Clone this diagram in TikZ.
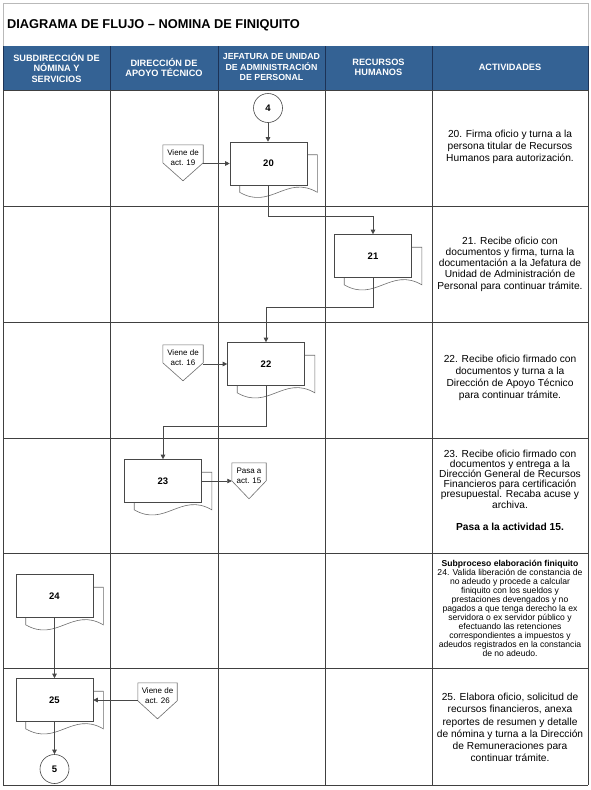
\documentclass[tikz,border=0pt]{standalone}
\usepackage{fontspec}
\setmainfont{Liberation Sans}
\usetikzlibrary{arrows.meta,calc}
\pgfdeclarelayer{gridl}
\pgfdeclarelayer{backl}
\pgfsetlayers{gridl,backl,main}
\definecolor{hdr}{RGB}{52,98,148}
\definecolor{hdrline}{RGB}{28,50,86}
\definecolor{gridc}{RGB}{64,64,64}
\definecolor{shp}{RGB}{72,72,72}
\definecolor{shpback}{RGB}{110,110,110}
\tikzset{
  docfront/.style={draw=shp, line width=0.6pt, fill=white, minimum width=77pt, minimum height=43pt, inner sep=0pt, font=\fontsize{9.5}{11}\selectfont\bfseries},
  docback/.style={draw=shpback, line width=0.6pt, fill=white},
  conn/.style={draw=shp, line width=0.6pt},
  arr/.style={conn, -{Triangle[length=4.5pt,width=4.5pt]}},
  offtext/.style={minimum width=#1, minimum height=26pt, inner sep=0pt, align=center, font=\fontsize{8}{10}\selectfont},
  offline/.style={draw=shpback, line width=0.6pt, fill=white},
  circ/.style={circle, draw=shp, line width=0.6pt, fill=white, minimum size=29pt, inner sep=0pt, font=\fontsize{9.5}{11}\selectfont\bfseries},
  acttext/.style={align=center, inner sep=0pt, font=\fontsize{10.2}{#1}\selectfont},
  hdrtext/.style={text=white, align=center, inner sep=0pt, font=\fontsize{9.2}{10.5}\selectfont\bfseries},
}
\newcommand\docbk[1]{%
  \begin{pgfonlayer}{backl}
  \draw[docback] ($(#1.north west)+(10,13)$) -- ($(#1.north east)+(10,13)$) -- ($(#1.south east)+(10,7)$)
    .. controls ($(#1.south east)+(-21,-11)$) and ($(#1.south west)+(41,25)$) .. ($(#1.south west)+(10,7)$) -- cycle;
  \end{pgfonlayer}}
\newcommand\offpg[1]{%
  \begin{pgfonlayer}{backl}
  \draw[offline] (#1.north west) -- (#1.north east) -- ($(#1.north east)+(0,18)$) -- ($(#1.north)+(0,36)$) -- ($(#1.north west)+(0,18)$) -- cycle;
  \end{pgfonlayer}}
\begin{document}
\begin{tikzpicture}[x=1pt,y=-1pt]
\useasboundingbox (0,0) rectangle (590,790);
\begin{pgfonlayer}{gridl}
  \fill[white] (0,0) rectangle (590,790);
  \draw[gray!55, line width=0.8pt] (3,3) rectangle (588,46);
  \fill[hdr] (3,46) rectangle (588,90);
  \foreach \x in {3,110,218,325,432,588} \draw[hdrline, line width=0.8pt] (\x,46) -- (\x,90);
  \foreach \x in {3,110,218,325,432,588} \draw[gridc, line width=0.8pt] (\x,90) -- (\x,785);
  \foreach \y in {90,206,322,438,553,668,785} \draw[gridc, line width=0.8pt] (3,\y) -- (588,\y);
\end{pgfonlayer}

% title and header
\node[anchor=base west, inner sep=0pt, font=\fontsize{12.8}{15}\selectfont\bfseries] (title) at (7,28.5) {DIAGRAMA DE FLUJO – NOMINA DE FINIQUITO};
\node[hdrtext] (h1) at (56.5,67.5) {SUBDIRECCIÓN DE\\NÓMINA Y\\SERVICIOS};
\node[hdrtext] (h2) at (164,67.5) {DIRECCIÓN DE\\APOYO TÉCNICO};
\node[hdrtext, font=\fontsize{8.8}{10.5}\selectfont\bfseries] (h3) at (271.5,67.5) {JEFATURA DE UNIDAD\\DE ADMINISTRACIÓN\\DE PERSONAL};
\node[hdrtext] (h4) at (378.5,67.5) {RECURSOS\\HUMANOS};
\node[hdrtext] (h5) at (510,67.5) {ACTIVIDADES};

% activities text
\node[acttext=11.7] (a1) at (510,147) {20. Firma oficio y turna a la\\persona titular de Recursos\\Humanos para autorización.};
\node[acttext=11.25] (a2) at (510,264) {21. Recibe oficio con\\documentos y firma, turna la\\documentación a la Jefatura de\\Unidad de Administración de\\Personal para continuar trámite.};
\node[acttext=12] (a3) at (510,377.5) {22. Recibe oficio firmado con\\documentos y turna a la\\Dirección de Apoyo Técnico\\para continuar trámite.};
\node[acttext=10.2] (a4) at (510,490) {23. Recibe oficio firmado con\\documentos y entrega a la\\Dirección General de Recursos\\Financieros para certificación\\presupuestal. Recaba acuse y\\archiva.\\[11.8pt]\textbf{Pasa a la actividad 15.}};
\node[align=center, inner sep=0pt, font=\fontsize{8.6}{9.05}\selectfont] (a5) at (510,608.5) {\textbf{Subproceso elaboración finiquito}\\24. Valida liberación de constancia de\\no adeudo y procede a calcular\\finiquito con los sueldos y\\prestaciones devengados y no\\pagados a que tenga derecho la ex\\servidora o ex servidor público y\\efectuando las retenciones\\correspondientes a impuestos y\\adeudos registrados en la constancia\\de no adeudo.};
\node[acttext=12.3] (a6) at (510,727.5) {25. Elabora oficio, solicitud de\\recursos financieros, anexa\\reportes de resumen y detalle\\de nómina y turna a la Dirección\\de Remuneraciones para\\continuar trámite.};

% connectors (circles)
\node[circ] (c4) at (268,108) {4};
\node[circ] (c5) at (54.5,769) {5};

% documents
\node[docfront] (d20) at (268.5,163.5) {20}; \docbk{d20}
\node[docfront] (d21) at (373,256) {21}; \docbk{d21}
\node[docfront] (d22) at (266,364) {22}; \docbk{d22}
\node[docfront] (d23) at (163,481) {23}; \docbk{d23}
\node[docfront] (d24) at (54.5,596) {24}; \docbk{d24}
\node[docfront] (d25) at (54.5,700) {25}; \docbk{d25}

% off-page references
\node[offtext=40pt] (v19) at (183,158) {Viene de\\act. 19}; \offpg{v19}
\node[offtext=40pt] (v16) at (183,358) {Viene de\\act. 16}; \offpg{v16}
\node[offtext=34pt] (p15) at (249,476) {Pasa a\\act. 15}; \offpg{p15}
\node[offtext=39pt] (v26) at (157.5,696) {Viene de\\act. 26}; \offpg{v26}

% flow
\draw[arr] (c4.south) -- (c4.south |- d20.north);
\draw[arr] (d20.west -| v19.east) -- (d20.west);
\draw[arr] (d20.south -| c4.south) -- ++(0,31) -| (d21.north);
\draw[arr] (d21.south) -- ++(0,29) -| (d22.north);
\draw[arr] (d22.west -| v16.east) -- (d22.west);
\draw[arr] (d22.south) -- ++(0,40) -| (d23.north);
\draw[arr] (d23.east) -- (d23.east -| p15.west);
\draw[arr] (d24.south) -- (d25.north);
\draw[arr] (d25.east -| v26.west) -- (d25.east);
\draw[arr] (d25.south) -- (c5.north);
\end{tikzpicture}
\end{document}
